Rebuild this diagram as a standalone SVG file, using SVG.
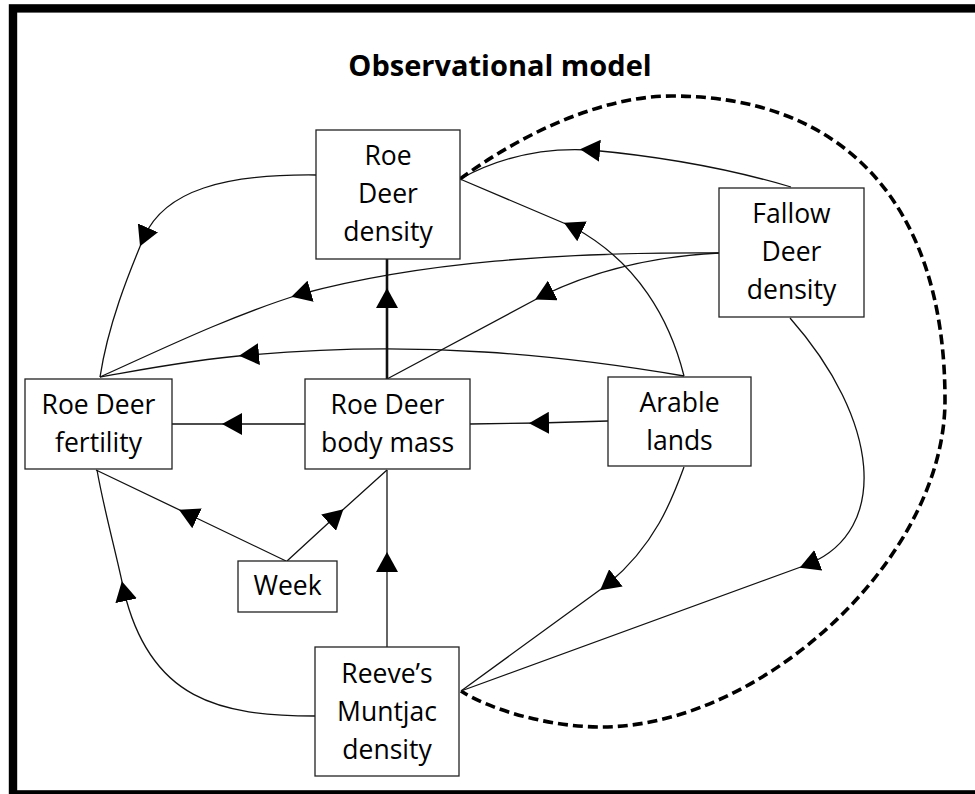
<svg xmlns="http://www.w3.org/2000/svg" width="975" height="794" viewBox="0 0 975 794">
<style>
.box{fill:#fff;stroke:#222;stroke-width:1.3}
.lbl{font-family:"Open Sans","Noto Sans","Liberation Sans",sans-serif;font-size:26.5px;fill:#000;text-anchor:middle}
.title{font-family:"Open Sans","Noto Sans","Liberation Sans",sans-serif;font-size:29px;font-weight:bold;fill:#000;text-anchor:middle}
.c{fill:none;stroke:#111;stroke-width:1.3;marker-mid:url(#ah)}
.thick{stroke-width:2.6}
.dash{fill:none;stroke:#000;stroke-width:3.6;stroke-dasharray:10 5}
</style>
<defs>
<marker id="ah" viewBox="0 0 20 22" refX="10" refY="11" markerWidth="20" markerHeight="22" markerUnits="userSpaceOnUse" orient="auto">
<path d="M0,0 L20,11 L0,22 z" fill="#000"/>
</marker>
</defs>
<rect x="0" y="0" width="975" height="794" fill="#fff"/>
<rect x="13" y="8.4" width="1000" height="786" fill="none" stroke="#000" stroke-width="8.4"/>
<text class="title" x="500" y="76">Observational model</text>
<g id="connectors">
<path class="c" d="M316,175 C225,174 165,190 144,237 C128,275 108,325 100,377"/>
<path class="c thick" d="M387,379 L387,298 L387,259"/>
<path class="c" d="M608,421 L539,423 L470,424"/>
<path class="c" d="M305,424 L232,424 L172,424"/>
<path class="c" d="M286,561 L188,514 L96,470"/>
<path class="c" d="M287,561 L336,516 L387,470"/>
<path class="c" d="M387,647 L387,562 L387,470"/>
<path class="c" d="M315,716 C220,716 150,700 124,591 C116,552 104,510 97,470"/>
<path class="c" d="M791,187 Q700,160 590,150 Q520,146 460,179"/>
<path class="dash" d="M460,179 C520,135 600,96 672,96 C840,96 945,200 945,400 C945,560 760,727 601,727 C550,727 490,710 461,691"/>
<path class="c" d="M719,253 C560,252 420,262 301,294 C230,316 160,350 100,377"/>
<path class="c" d="M684,376 C560,355 420,340 249,355 C190,360 140,370 100,377"/>
<path class="c" d="M684,376 C670,320 638,262 573,227 L460,179"/>
<path class="c" d="M719,253 C660,256 600,268 544,295 L387,379"/>
<path class="c" d="M684,467 C672,500 655,545 608,584 L461,691"/>
<path class="c" d="M790,318 C880,420 890,530 809,564 L461,691"/>
</g>
<g id="roe-density">
<rect class="box" x="316" y="130" width="144" height="129"/>
<text class="lbl" x="388" y="165">Roe</text>
<text class="lbl" x="388" y="203">Deer</text>
<text class="lbl" x="388" y="241">density</text>
</g>
<g id="fallow-density">
<rect class="box" x="719" y="188" width="145" height="129"/>
<text class="lbl" x="791.5" y="223">Fallow</text>
<text class="lbl" x="791.5" y="261">Deer</text>
<text class="lbl" x="791.5" y="299">density</text>
</g>
<g id="roe-fertility">
<rect class="box" x="25" y="379" width="147" height="90"/>
<text class="lbl" x="98.5" y="414">Roe Deer</text>
<text class="lbl" x="98.5" y="452">fertility</text>
</g>
<g id="roe-body-mass">
<rect class="box" x="305" y="379" width="165" height="90"/>
<text class="lbl" x="387.5" y="414">Roe Deer</text>
<text class="lbl" x="387.5" y="452">body mass</text>
</g>
<g id="arable-lands">
<rect class="box" x="608" y="377" width="143" height="89"/>
<text class="lbl" x="679.5" y="412">Arable</text>
<text class="lbl" x="679.5" y="450">lands</text>
</g>
<g id="week">
<rect class="box" x="238" y="561" width="99" height="51"/>
<text class="lbl" x="287.5" y="595">Week</text>
</g>
<g id="reeves-muntjac">
<rect class="box" x="315" y="647" width="144" height="129"/>
<text class="lbl" x="387" y="683">Reeve’s</text>
<text class="lbl" x="387" y="721">Muntjac</text>
<text class="lbl" x="387" y="759">density</text>
</g>
</svg>
